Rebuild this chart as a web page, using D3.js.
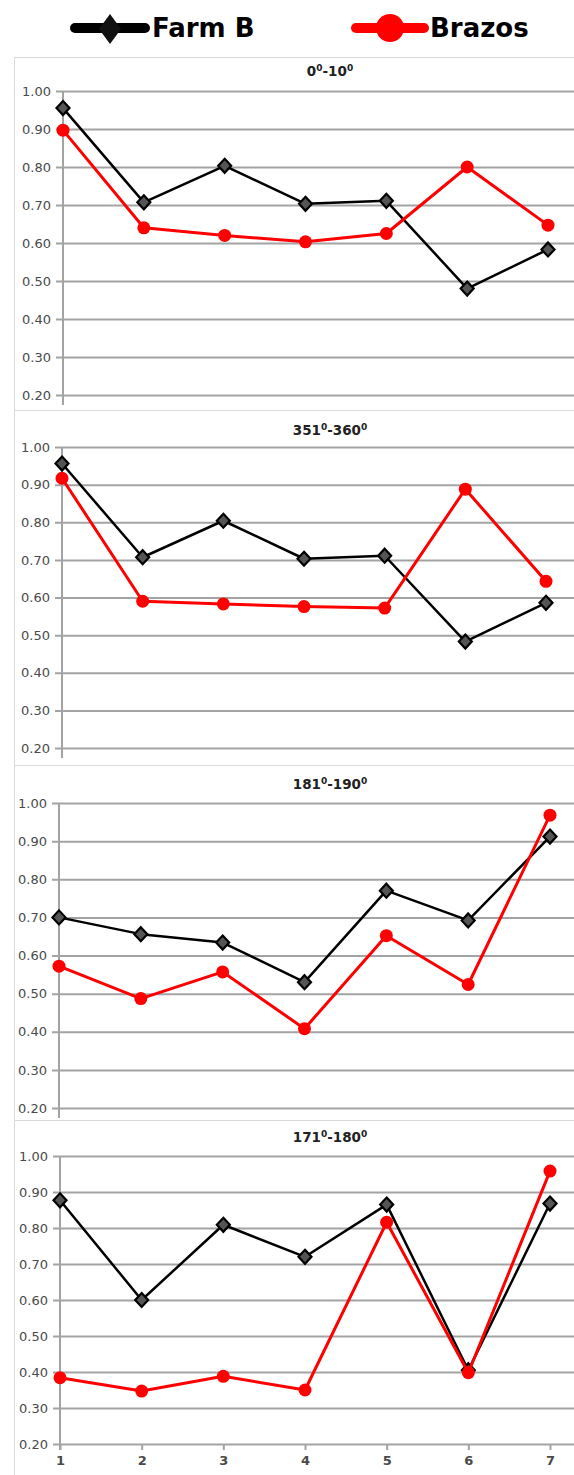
<!DOCTYPE html>
<html>
<head>
<meta charset="utf-8">
<script src="https://cdn.jsdelivr.net/npm/d3@7"></script>
<style>
  body { margin: 0; background: #fff; }
  svg { display: block; }
</style>
</head>
<body>
<div class="chart"></div>
<script>
const w = 574;
const h = 1475;

// data
const categories = [1, 2, 3, 4, 5, 6, 7];
const yTicks = [0.2, 0.3, 0.4, 0.5, 0.6, 0.7, 0.8, 0.9, 1.0];
const seriesNames = ['Farm B', 'Brazos'];
const panelTitles = [['0', '10'], ['351', '360'], ['181', '190'], ['171', '180']];

const farmB_0_10 = [0.955, 0.707, 0.803, 0.703, 0.711, 0.48, 0.583];
const brazos_0_10 = [0.897, 0.64, 0.62, 0.603, 0.625, 0.80, 0.647];

const farmB_351_360 = [0.956, 0.707, 0.804, 0.703, 0.711, 0.483, 0.586];
const brazos_351_360 = [0.917, 0.59, 0.583, 0.576, 0.572, 0.888, 0.643];

const farmB_181_190 = [0.70, 0.656, 0.634, 0.53, 0.77, 0.692, 0.912];
const brazos_181_190 = [0.572, 0.487, 0.557, 0.408, 0.652, 0.524, 0.968];

const farmB_171_180 = [0.877, 0.60, 0.809, 0.72, 0.865, 0.405, 0.868];
const brazos_171_180 = [0.384, 0.347, 0.388, 0.35, 0.816, 0.398, 0.958];

const panelData = [
  [farmB_0_10, brazos_0_10],
  [farmB_351_360, brazos_351_360],
  [farmB_181_190, brazos_181_190],
  [farmB_171_180, brazos_171_180]
];

// layout of each pasted chart (top = 1.00 line, bottom = 0.20 line)
const panels = [
  { top: 91, bottom: 395, x0: 63, x1: 548, frameTop: 57, frameBottom: 410, titleY: 76 },
  { top: 447, bottom: 748, x0: 62, x1: 546, frameTop: 410, frameBottom: 765, titleY: 435 },
  { top: 803, bottom: 1108, x0: 59, x1: 550, frameTop: 765, frameBottom: 1120, titleY: 789 },
  { top: 1156, bottom: 1444, x0: 60, x1: 550, frameTop: 1120, frameBottom: 1475, titleY: 1142 }
];

const colors = ['#000000', '#ff0000'];
const gridColor = '#a3a3a3';
const labelColor = '#4a4a4a';

const svg = d3.select('.chart')
  .append('svg')
  .attr('width', w)
  .attr('height', h);

// legend
const legend = svg.append('g').attr('class', 'legend');
const legendItems = [
  { x0: 75, x1: 145, tx: 152 },
  { x0: 356, x1: 424, tx: 430 }
];
legendItems.forEach((it, i) => {
  legend.append('line')
    .attr('x1', it.x0).attr('x2', it.x1)
    .attr('y1', 28).attr('y2', 28)
    .attr('stroke', colors[i])
    .attr('stroke-width', 10)
    .attr('stroke-linecap', 'round');
  const cx = (it.x0 + it.x1) / 2;
  if (i === 0) {
    legend.append('path')
      .attr('d', 'M0,-15L11,0L0,15L-11,0Z')
      .attr('transform', `translate(${cx},29)`)
      .attr('fill', '#111');
  } else {
    legend.append('circle')
      .attr('cx', cx).attr('cy', 28).attr('r', 14)
      .attr('fill', colors[i]);
  }
  legend.append('text')
    .attr('x', it.tx).attr('y', 37)
    .attr('font-family', 'DejaVu Sans')
    .attr('font-weight', 'bold')
    .attr('font-size', 26)
    .attr('fill', '#000')
    .text(seriesNames[i]);
});

// panels
panels.forEach((p, pi) => {
  const g = svg.append('g').attr('class', 'panel');

  // chart frame: left and top edges of each pasted chart
  g.append('path')
    .attr('d', `M14.5,${p.frameBottom}V${p.frameTop + 0.5}H${w}`)
    .attr('fill', 'none')
    .attr('stroke', '#d9d9d9')
    .attr('stroke-width', 1);

  const xScale = d3.scalePoint()
    .domain(categories)
    .range([p.x0, p.x1]);

  const yScale = d3.scaleLinear()
    .domain([0.2, 1.0])
    .range([p.bottom, p.top]);

  // gridlines + labels
  const yAxis = d3.axisLeft(yScale)
    .tickValues(yTicks)
    .tickFormat(d3.format('.2f'))
    .tickSize(-(w - p.x0 + 7))
    .tickPadding(5);
  const ya = g.append('g')
    .attr('transform', `translate(${p.x0 - 7},0)`)
    .call(yAxis);
  ya.select('.domain').remove();
  ya.selectAll('.tick line')
    .attr('stroke', gridColor)
    .attr('stroke-width', 2);
  ya.selectAll('.tick text')
    .attr('font-family', 'DejaVu Sans')
    .attr('font-size', 13)
    .attr('fill', labelColor);

  // vertical axis line
  g.append('line')
    .attr('x1', xScale(categories[0])).attr('x2', xScale(categories[0]))
    .attr('y1', yScale(1.0)).attr('y2', yScale(0.2) + (pi === 3 ? 6 : 10))
    .attr('stroke', gridColor)
    .attr('stroke-width', 2);

  // title
  const t = g.append('text')
    .attr('x', 330).attr('y', p.titleY)
    .attr('text-anchor', 'middle')
    .attr('font-family', 'DejaVu Sans')
    .attr('font-weight', 'bold')
    .attr('font-size', 13.5)
    .attr('fill', '#222');
  t.append('tspan').text(panelTitles[pi][0]);
  t.append('tspan').attr('dy', -5).attr('font-size', 9).text('0');
  t.append('tspan').attr('dy', 5).text('-' + panelTitles[pi][1]);
  t.append('tspan').attr('dy', -5).attr('font-size', 9).text('0');

  // bottom axis only on last chart
  if (pi === panels.length - 1) {
    const xAxis = d3.axisBottom(xScale).tickSize(6).tickPadding(6);
    const xa = g.append('g')
      .attr('transform', `translate(0,${p.bottom})`)
      .call(xAxis);
    xa.select('.domain').remove();
    xa.selectAll('.tick line').attr('stroke', gridColor).attr('stroke-width', 2);
    xa.selectAll('.tick text')
      .attr('font-family', 'DejaVu Sans')
      .attr('font-weight', 'bold')
      .attr('font-size', 13)
      .attr('fill', labelColor);
  }

  // series
  const line = d3.line()
    .x((d, i) => xScale(categories[i]))
    .y((d) => yScale(d));

  panelData[pi].forEach((values, si) => {
    g.append('path')
      .datum(values)
      .attr('d', line)
      .attr('fill', 'none')
      .attr('stroke', colors[si])
      .attr('stroke-width', si === 0 ? 2.5 : 3)
      .attr('stroke-linejoin', 'round');

    if (si === 0) {
      g.selectAll(null)
        .data(values)
        .enter()
        .append('path')
        .attr('d', 'M0,-7L6.5,0L0,7L-6.5,0Z')
        .attr('transform', (d, i) => `translate(${xScale(categories[i])},${yScale(d)})`)
        .attr('fill', '#555')
        .attr('stroke', '#000')
        .attr('stroke-width', 2.2);
    } else {
      g.selectAll(null)
        .data(values)
        .enter()
        .append('circle')
        .attr('cx', (d, i) => xScale(categories[i]))
        .attr('cy', (d) => yScale(d))
        .attr('r', 6.5)
        .attr('fill', colors[si]);
    }
  });
});
</script>
</body>
</html>
